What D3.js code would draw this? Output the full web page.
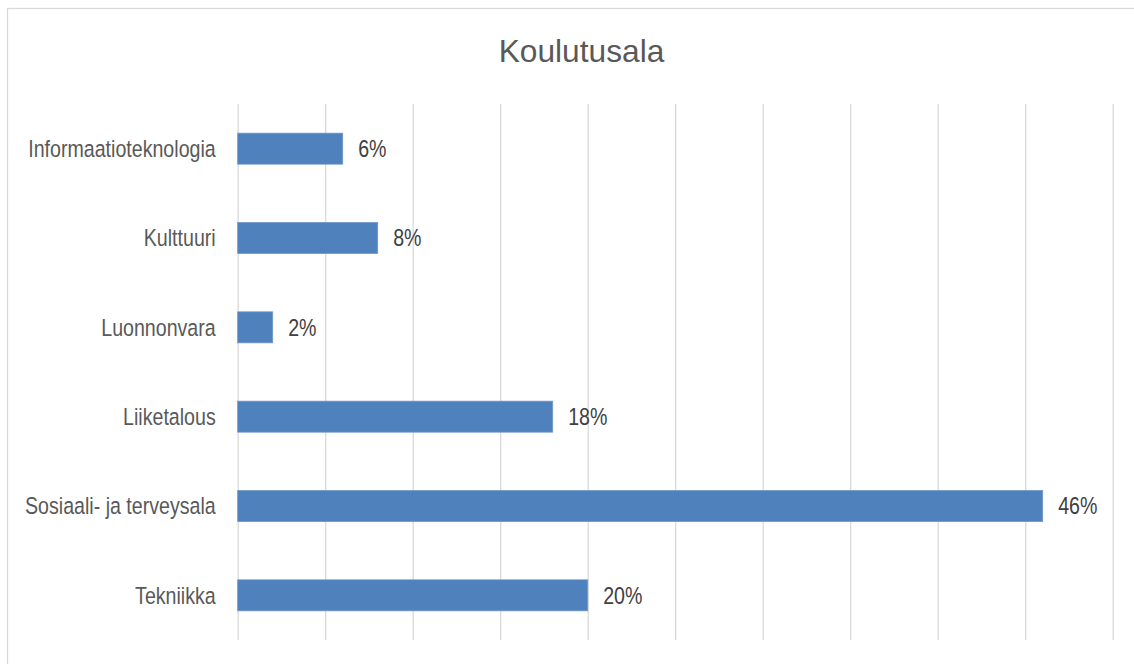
<!DOCTYPE html>
<html>
<head>
<meta charset="utf-8">
<script src="https://cdn.jsdelivr.net/npm/d3@7"></script>
<style>
  body { margin: 0; background: #fff; }
  svg { display: block; }
  .cat, .val { font-family: "Liberation Sans", Arial, sans-serif; }
</style>
</head>
<body>
<div id="chart"></div>
<script>
// Data
const categories = ["Informaatioteknologia", "Kulttuuri", "Luonnonvara", "Liiketalous", "Sosiaali- ja terveysala", "Tekniikka"];
const shares = [0.06, 0.08, 0.02, 0.18, 0.46, 0.20];
const valueLabels = ["6%", "8%", "2%", "18%", "46%", "20%"];
const title = "Koulutusala";

const width = 1134;
const height = 664;
const plot = { left: 237.7, right: 1112.7, top: 104, bottom: 640 };
// labels in the reference use a narrow face; squeeze the regular one
const narrow = 0.835;

const svg = d3.select("#chart")
    .append("svg")
    .attr("width", width)
    .attr("height", height);

// chart frame (only top/left edges fall inside the picture)
svg.append("rect")
    .attr("x", 7.5).attr("y", 8.5)
    .attr("width", 1160).attr("height", 700)
    .attr("fill", "#fff")
    .attr("stroke", "#d9d9d9")
    .attr("stroke-width", 1.3);

// Scales
const x = d3.scaleLinear()
    .domain([0, 0.5])
    .range([plot.left, plot.right]);

const y = d3.scaleBand()
    .domain(categories)
    .range([plot.top, plot.bottom])
    .paddingInner(0.653)
    .paddingOuter(0.3265);

// Gridlines
svg.append("g")
    .attr("transform", `translate(0,${plot.bottom})`)
    .call(d3.axisBottom(x).tickValues(d3.range(0, 0.5001, 0.05)).tickSize(plot.bottom - plot.top).tickFormat(""))
    .call(g => g.select(".domain").remove())
    .call(g => g.selectAll(".tick line")
        .attr("y2", -(plot.bottom - plot.top))
        .attr("stroke", "#d9d9d9")
        .attr("stroke-width", 1.3));

// Category axis labels
svg.append("g")
    .selectAll("text")
    .data(categories)
    .join("text")
    .attr("class", "cat")
    .attr("transform", d => `translate(${plot.left - 22},${y(d) + y.bandwidth() / 2}) scale(${narrow},1)`)
    .attr("dy", "0.36em")
    .attr("text-anchor", "end")
    .attr("font-size", 23.5)
    .attr("fill", "#595959")
    .text(d => d);

// Bars
svg.append("g")
    .selectAll("rect")
    .data(categories)
    .join("rect")
    .attr("x", x(0))
    .attr("y", d => y(d))
    .attr("width", (d, i) => x(shares[i]) - x(0))
    .attr("height", y.bandwidth())
    .attr("fill", "#4f81bd")
    .attr("stroke", "#6f97c9")
    .attr("stroke-width", 0.8);

// Value labels
svg.append("g")
    .selectAll("text")
    .data(categories)
    .join("text")
    .attr("class", "val")
    .attr("transform", (d, i) => `translate(${x(shares[i]) + 15.5},${y(d) + y.bandwidth() / 2}) scale(${narrow},1)`)
    .attr("dy", "0.36em")
    .attr("font-size", 23.5)
    .attr("fill", "#404040")
    .text((d, i) => valueLabels[i]);

// Title
svg.append("text")
    .attr("x", 581.5)
    .attr("y", 61.7)
    .attr("text-anchor", "middle")
    .attr("font-family", "'Liberation Sans', Arial, sans-serif")
    .attr("font-size", 31.7)
    .attr("fill", "#595959")
    .text(title);
</script>
</body>
</html>
